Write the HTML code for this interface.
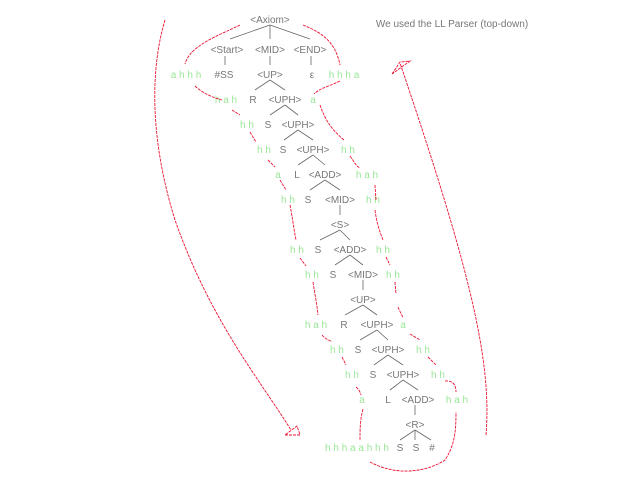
<!DOCTYPE html>
<html><head><meta charset="utf-8"><style>
html,body{margin:0;padding:0;background:#fff;width:640px;height:480px;overflow:hidden}
svg text{font-family:"Liberation Sans",sans-serif;font-size:10px;text-anchor:middle}
.g{fill:#777}.n{fill:#99e699}
</style></head><body>
<svg width="640" height="480" viewBox="0 0 640 480" xmlns="http://www.w3.org/2000/svg">
<g stroke="#666" stroke-width="0.8" fill="none">
<line x1="270" y1="25" x2="230" y2="39"/><line x1="270" y1="25" x2="270" y2="39"/><line x1="270" y1="25" x2="310" y2="39"/>
<line x1="225" y1="56" x2="225" y2="65"/><line x1="270" y1="56" x2="270" y2="65"/><line x1="311" y1="56" x2="311" y2="65"/>
<line x1="270" y1="80" x2="255" y2="90"/><line x1="270" y1="80" x2="285" y2="90"/>
<line x1="285" y1="105" x2="270" y2="115"/><line x1="285" y1="105" x2="298" y2="115"/>
<line x1="298" y1="130" x2="284" y2="140"/><line x1="298" y1="130" x2="313" y2="140"/>
<line x1="313" y1="155" x2="298" y2="165"/><line x1="313" y1="155" x2="325" y2="165"/>
<line x1="325" y1="180" x2="310" y2="190"/><line x1="325" y1="180" x2="340" y2="190"/>
<line x1="340" y1="205" x2="340" y2="215"/>
<line x1="340" y1="230" x2="320" y2="240"/><line x1="340" y1="230" x2="350" y2="240"/>
<line x1="350" y1="255" x2="335" y2="265"/><line x1="350" y1="255" x2="363" y2="265"/>
<line x1="363" y1="280" x2="363" y2="290"/>
<line x1="363" y1="305" x2="345" y2="315"/><line x1="363" y1="305" x2="377" y2="315"/>
<line x1="377" y1="330" x2="360" y2="340"/><line x1="377" y1="330" x2="388" y2="340"/>
<line x1="388" y1="355" x2="374" y2="365"/><line x1="388" y1="355" x2="403" y2="365"/>
<line x1="403" y1="380" x2="390" y2="390"/><line x1="403" y1="380" x2="418" y2="390"/>
<line x1="415" y1="405" x2="415" y2="415"/>
<line x1="415" y1="430" x2="400" y2="440"/><line x1="415" y1="430" x2="415" y2="440"/><line x1="415" y1="430" x2="431" y2="440"/>
</g>
<g class="g">
<text x="270" y="23">&lt;Axiom&gt;</text>
<text x="227" y="53">&lt;Start&gt;</text><text x="270" y="53">&lt;MID&gt;</text><text x="310" y="53">&lt;END&gt;</text>
<text x="224" y="78">#SS</text><text x="270" y="78">&lt;UP&gt;</text><text x="312" y="78">ε</text>
<text x="253" y="103">R</text><text x="285" y="103">&lt;UPH&gt;</text>
<text x="268" y="128">S</text><text x="298" y="128">&lt;UPH&gt;</text>
<text x="283" y="153">S</text><text x="313" y="153">&lt;UPH&gt;</text>
<text x="297" y="178">L</text><text x="325" y="178">&lt;ADD&gt;</text>
<text x="308" y="203">S</text><text x="340" y="203">&lt;MID&gt;</text>
<text x="340" y="228">&lt;S&gt;</text>
<text x="318" y="253">S</text><text x="350" y="253">&lt;ADD&gt;</text>
<text x="333" y="278">S</text><text x="363" y="278">&lt;MID&gt;</text>
<text x="363" y="303">&lt;UP&gt;</text>
<text x="344" y="328">R</text><text x="377" y="328">&lt;UPH&gt;</text>
<text x="358" y="353">S</text><text x="388" y="353">&lt;UPH&gt;</text>
<text x="373" y="378">S</text><text x="403" y="378">&lt;UPH&gt;</text>
<text x="388" y="403">L</text><text x="418" y="403">&lt;ADD&gt;</text>
<text x="415" y="428">&lt;R&gt;</text>
<text x="400" y="451">S</text><text x="416" y="451">S</text><text x="432" y="451">#</text>
<text x="452" y="27">We used the LL Parser (top-down)</text>
</g>
<g class="n">
<text x="186" y="78">a h h h</text><text x="344" y="78">h h h a</text>
<text x="226" y="103">h a h</text><text x="313" y="103">a</text>
<text x="247" y="128">h h</text>
<text x="264" y="153">h h</text><text x="348" y="153">h h</text>
<text x="278" y="178">a</text><text x="367" y="178">h a h</text>
<text x="288" y="203">h h</text><text x="373" y="203">h h</text>
<text x="297" y="253">h h</text><text x="383" y="253">h h</text>
<text x="312" y="278">h h</text><text x="393" y="278">h h</text>
<text x="316" y="328">h a h</text><text x="403" y="328">a</text>
<text x="337" y="353">h h</text><text x="423" y="353">h h</text>
<text x="352" y="378">h h</text><text x="438" y="378">h h</text>
<text x="362" y="403">a</text><text x="457" y="403">h a h</text>
<text x="357" y="451">h h h a a h h h</text>
</g>
<g stroke="#ee1133" stroke-width="0.9" fill="none" stroke-dasharray="3,1">
<path d="M165,20 C150,70 150,140 175,220 C210,320 260,380 291,430"/>
<path d="M285,435 L300,435 L297,426 Z"/>
<path d="M486,435 C492,360 470,270 400,63"/>
<path d="M392,74 L400,62 L410,61 Z"/>
<path d="M240,25 C220,35 190,45 185,64"/>
<path d="M195,86 C205,95 215,98 222,100"/>
<path d="M232,110 L240,115"/>
<path d="M250,132 L256,142"/>
<path d="M268,160 L275,167"/>
<path d="M280,180 L286,190"/>
<path d="M290,205 C292,215 294,230 296,240"/>
<path d="M300,258 L306,266"/>
<path d="M313,282 C315,295 317,305 318,315"/>
<path d="M322,335 C326,340 330,340 332,342"/>
<path d="M342,357 L346,365"/>
<path d="M356,387 C360,390 361,395 361,395"/>
<path d="M363,409 C360,420 360,430 360,440"/>
<path d="M370,462 C400,478 430,470 445,460 C455,445 456,430 456,412"/>
<path d="M303,25 C320,32 335,40 340,65"/>
<path d="M340,81 C330,86 320,88 314,94"/>
<path d="M320,105 C325,120 332,130 344,140"/>
<path d="M350,156 C355,163 356,166 360,168"/>
<path d="M375,185 L376,200"/>
<path d="M375,210 C377,225 380,232 383,240"/>
<path d="M386,257 L390,265"/>
<path d="M395,282 L396,294"/>
<path d="M398,307 C400,312 402,315 403,318"/>
<path d="M410,334 L420,340"/>
<path d="M428,357 L436,365"/>
<path d="M445,381 C455,380 456,388 456,392"/>
</g>
</svg>
</body></html>
